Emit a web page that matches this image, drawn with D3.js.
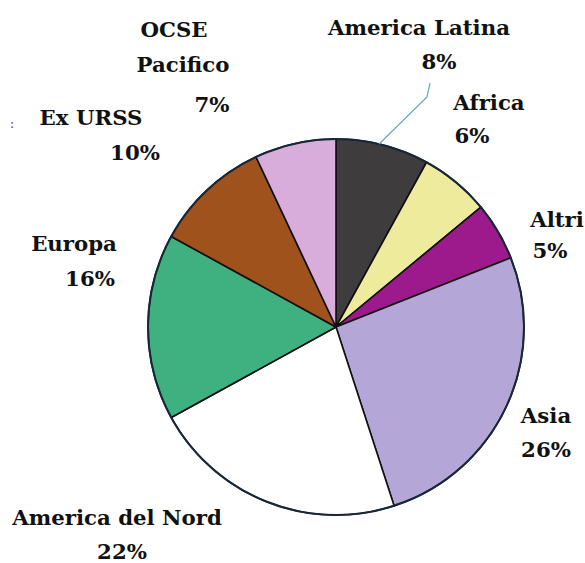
<!DOCTYPE html>
<html>
<head>
<meta charset="utf-8">
<script src="https://cdn.jsdelivr.net/npm/d3@7"></script>
<style>
  body { margin: 0; background: #fff; }
</style>
</head>
<body>
<div id="pie_chart"></div>
<script>
// data
var regions = ["America Latina", "Africa", "Altri", "Asia", "America del Nord", "Europa", "Ex URSS", "OCSE Pacifico"];
var shares = [8, 6, 5, 26, 22, 16, 10, 7];
var colors = ["#3e3c3c", "#eeeb9c", "#9c1a8b", "#b4a6d6", "#ffffff", "#3fb07f", "#a0521c", "#d9addb"];
// label lines as they wrap in the picture
var labelLines = [
    ["America Latina", "8%"],
    ["Africa", "6%"],
    ["Altri", "5%"],
    ["Asia", "26%"],
    ["America del Nord", "22%"],
    ["Europa", "16%"],
    ["Ex URSS", "10%"],
    ["OCSE", "Pacifico", "7%"]
];

var width = 585, height = 563;
var cx = 336, cy = 327, radius = 188;
var fontFamily = "'DejaVu Serif', 'Liberation Serif', serif";

var svg = d3.select("#pie_chart")
    .append("svg")
    .attr("width", width)
    .attr("height", height);

var data = regions.map(function(r, i) { return {name: r, value: shares[i], color: colors[i], lines: labelLines[i]}; });

var pie = d3.pie()
    .sort(null)
    .value(function(d) { return d.value; });

var arc = d3.arc()
    .innerRadius(0)
    .outerRadius(radius);

var g = svg.append("g")
    .attr("transform", "translate(" + cx + "," + cy + ")");

var arcs = pie(data);

g.selectAll("path.slice")
    .data(arcs)
    .enter()
    .append("path")
    .attr("class", "slice")
    .attr("d", arc)
    .attr("fill", function(d) { return d.data.color; })
    .attr("stroke", "#111")
    .attr("stroke-width", 1.6)
    .attr("stroke-linejoin", "round");

// outer rim is a bit darker/bluish
g.append("circle")
    .attr("r", radius)
    .attr("fill", "none")
    .attr("stroke", "#17283a")
    .attr("stroke-width", 2);

// label placement (centre x and baseline of each line)
var labelPos = [
    {x: [419, 439], y: [35, 69]},
    {x: [489, 472], y: [110, 143]},
    {x: [557, 550], y: [227, 258]},
    {x: [546, 546], y: [423, 457]},
    {x: [117, 122], y: [525, 559]},
    {x: [74, 90], y: [251, 286]},
    {x: [91, 135], y: [125, 160]},
    {x: [174, 183, 212], y: [37, 72, 112]}
];

var labels = [];
data.forEach(function(d, i) {
    d.lines.forEach(function(line, j) {
        labels.push(svg.append("text")
            .attr("data-x", labelPos[i].x[j])
            .attr("data-y", labelPos[i].y[j])
            .attr("text-anchor", "middle")
            .attr("font-family", fontFamily)
            .attr("font-weight", "bold")
            .attr("font-size", 21)
            .attr("fill", "#111")
            .text(line));
    });
});

// widen the type so "America Latina" spans about 182px, as in the picture
var stretch = 182 / labels[0].node().getComputedTextLength();
labels.forEach(function(t) {
    t.attr("transform", "translate(" + t.attr("data-x") + "," + t.attr("data-y") + ") scale(" + stretch + ",1)");
});

// leader line for America Latina
var a0 = arcs[0];
var mid = (a0.startAngle + a0.endAngle) / 2 - 0.02;
var ex = cx + Math.sin(mid) * radius, ey = cy - Math.cos(mid) * radius;
svg.append("path")
    .attr("d", d3.line()([[ex, ey], [427, 97], [430, 83]]))
    .attr("fill", "none")
    .attr("stroke", "#6aa8bb")
    .attr("stroke-width", 1.2);

// stray mark left of "Ex URSS"
svg.append("text")
    .attr("x", 10)
    .attr("y", 128)
    .attr("font-family", fontFamily)
    .attr("font-size", 12)
    .attr("fill", "#444")
    .text(":");
</script>
</body>
</html>
